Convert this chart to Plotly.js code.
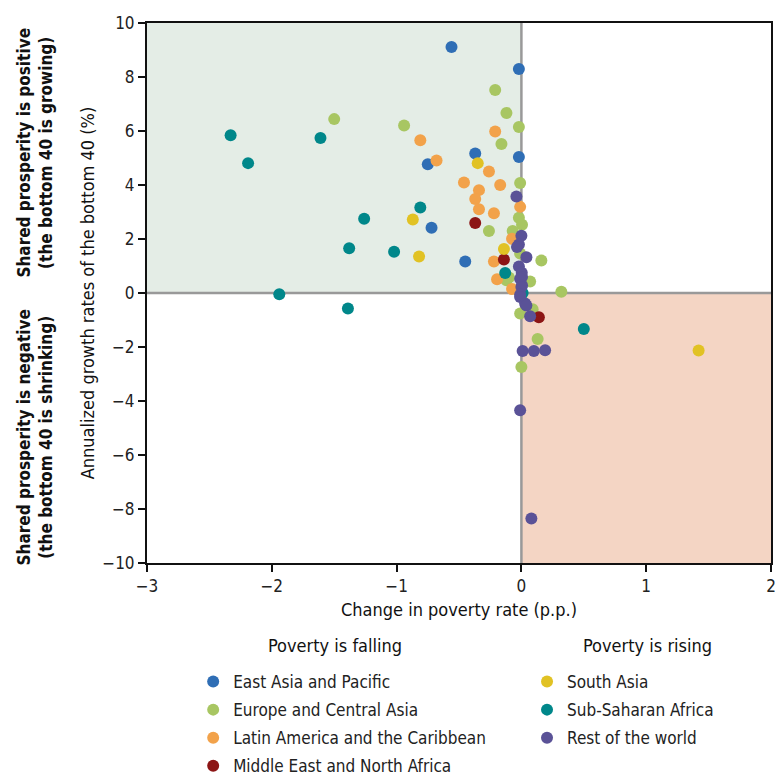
<!DOCTYPE html>
<html>
<head>
<meta charset="utf-8">
<script src="https://cdn.plot.ly/plotly-3.0.1.min.js"></script>
<style>html,body{margin:0;padding:0;background:#fff;}#chart{width:775px;height:776px;}</style>
</head>
<body>
<div id="chart"></div>
<script>
// Data: x = change in poverty rate (p.p.), y = annualized growth of bottom 40 (%)
const eapX = [-0.56, -0.02, -0.37, -0.02, -0.75, -0.72, -0.45];
const eapY = [9.11, 8.30, 5.17, 5.04, 4.77, 2.42, 1.17];

const ecaX = [-1.50, -0.94, -0.21, -0.12, -0.02, -0.16, -0.01, -0.02, 0.005, -0.26, -0.07, -0.01, 0.16, -0.12, 0.07, -0.10, 0.32, 0.09, -0.01, 0.13, 0.0];
const ecaY = [6.44, 6.20, 7.52, 6.67, 6.15, 5.52, 4.07, 2.79, 2.53, 2.30, 2.30, 1.46, 1.20, 0.47, 0.43, 0.57, 0.05, -0.60, -0.76, -1.70, -2.74];

const lacX = [-0.81, -0.68, -0.21, -0.26, -0.46, -0.17, -0.34, -0.37, -0.01, -0.34, -0.22, -0.075, -0.22, -0.195, -0.075];
const lacY = [5.66, 4.91, 5.98, 4.50, 4.09, 4.00, 3.81, 3.48, 3.19, 3.10, 2.95, 2.01, 1.17, 0.51, 0.15];

const menaX = [-0.37, -0.14, 0.14];
const menaY = [2.59, 1.24, -0.90];

const saX = [-0.35, -0.87, -0.82, -0.14, 1.42];
const saY = [4.81, 2.72, 1.35, 1.63, -2.13];

const ssaX = [-2.33, -2.19, -1.61, -1.26, -0.81, -1.38, -1.02, -1.94, -1.39, 0.50, -0.13, 0.01];
const ssaY = [5.84, 4.81, 5.74, 2.75, 3.17, 1.66, 1.53, -0.05, -0.57, -1.33, 0.74, 0.0];

const rowX = [-0.04, 0.0, -0.02, -0.035, 0.04, -0.02, 0.003, 0.005, -0.01, 0.005, 0.0, -0.01, -0.01, 0.03, 0.04, 0.07, 0.01, 0.10, 0.19, -0.01, 0.08];
const rowY = [3.57, 2.12, 1.80, 1.70, 1.32, 0.98, 0.75, 0.59, 0.53, 0.29, 0.22, -0.06, -0.15, -0.39, -0.46, -0.86, -2.15, -2.15, -2.12, -4.34, -8.35];

const seriesNames = ["East Asia and Pacific", "Europe and Central Asia", "Latin America and the Caribbean",
  "Middle East and North Africa", "South Asia", "Sub-Saharan Africa", "Rest of the world"];
const seriesColors = ["#2F6EB5", "#A8C662", "#F2A24A", "#8C1515", "#E1C224", "#00878A", "#5A5297"];
const xTicks = [-3, -2, -1, 0, 1, 2];
const yTicks = [-10, -8, -6, -4, -2, 0, 2, 4, 6, 8, 10];

const FONT = "'Liberation Sans Narrow', 'DejaVu Sans Condensed', 'Roboto', sans-serif";
const xs = [eapX, ecaX, lacX, menaX, saX, ssaX, rowX];
const ys = [eapY, ecaY, lacY, menaY, saY, ssaY, rowY];

const traces = seriesNames.map((n, i) => ({
  type: "scatter", mode: "markers", name: n, x: xs[i], y: ys[i],
  marker: {color: seriesColors[i], size: 12, line: {width: 0}},
  legend: i < 4 ? "legend" : "legend2",
  legendgroup: "g" + i,
  cliponaxis: false
}));

const legendCommon = {xanchor: "left", yanchor: "top", orientation: "v", tracegroupgap: 3,
  font: {family: FONT, size: 17, color: "#222"}, bgcolor: "rgba(0,0,0,0)", itemclick: false};

const layout = {
  width: 775, height: 776,
  margin: {l: 147, r: 4, t: 23, b: 213, autoexpand: false},
  paper_bgcolor: "#fff", plot_bgcolor: "#fff",
  font: {family: FONT, size: 17, color: "#222"},
  showlegend: true,
  xaxis: {
    range: [-3, 2], tickvals: xTicks, ticks: "outside", ticklen: 7, tickwidth: 2, tickcolor: "#111",
    showgrid: false, zeroline: false, showline: true, linecolor: "#111", linewidth: 2, mirror: true,
    ticklabeloverflow: "allow", automargin: false,
    tickfont: {family: FONT, size: 17, color: "#222"},
    title: {text: "Change in poverty rate (p.p.)", font: {family: FONT, size: 18, color: "#111"}, standoff: 8}
  },
  yaxis: {
    range: [-10, 10], tickvals: yTicks, ticks: "outside", ticklen: 7, tickwidth: 2, tickcolor: "#111",
    showgrid: false, zeroline: false, showline: true, linecolor: "#111", linewidth: 2, mirror: true,
    automargin: false,
    tickfont: {family: FONT, size: 17, color: "#222"},
    title: {text: "Annualized growth rates of the bottom 40 (%)", font: {family: FONT, size: 18, color: "#111"}, standoff: 3}
  },
  shapes: [
    {type: "rect", xref: "x", yref: "y", x0: -3, x1: 0, y0: 0, y1: 10, fillcolor: "#E4EDE6", line: {width: 0}, layer: "below"},
    {type: "rect", xref: "x", yref: "y", x0: 0, x1: 2, y0: -10, y1: 0, fillcolor: "#F4D5C4", line: {width: 0}, layer: "below"},
    {type: "line", xref: "x", yref: "y", x0: 0, x1: 0, y0: -10, y1: 10, line: {color: "#999", width: 2.5}, layer: "below"},
    {type: "line", xref: "x", yref: "y", x0: -3, x1: 2, y0: 0, y1: 0, line: {color: "#999", width: 2.5}, layer: "below"}
  ],
  annotations: [
    {xref: "paper", yref: "y", x: -0.1795, y: 5.2, xanchor: "center", yanchor: "middle",
     text: "<b>Shared prosperity is positive<br>(the bottom 40 is growing)</b>",
     textangle: -90, showarrow: false, font: {family: FONT, size: 17, color: "#111"}},
    {xref: "paper", yref: "y", x: -0.1795, y: -5.35, xanchor: "center", yanchor: "middle",
     text: "<b>Shared prosperity is negative<br>(the bottom 40 is shrinking)</b>",
     textangle: -90, showarrow: false, font: {family: FONT, size: 17, color: "#111"}},
    {xref: "x", yref: "paper", x: -1.49, y: -0.152, xanchor: "center", yanchor: "middle",
     text: "Poverty is falling", showarrow: false, font: {family: FONT, size: 18, color: "#111"}},
    {xref: "x", yref: "paper", x: 1.01, y: -0.152, xanchor: "center", yanchor: "middle",
     text: "Poverty is rising", showarrow: false, font: {family: FONT, size: 18, color: "#111"}}
  ],
  legend: Object.assign({x: 0.074, y: -0.187}, legendCommon),
  legend2: Object.assign({x: 0.609, y: -0.187}, legendCommon)
};

Plotly.newPlot("chart", traces, layout, {displayModeBar: false, staticPlot: true});
</script>
</body>
</html>
